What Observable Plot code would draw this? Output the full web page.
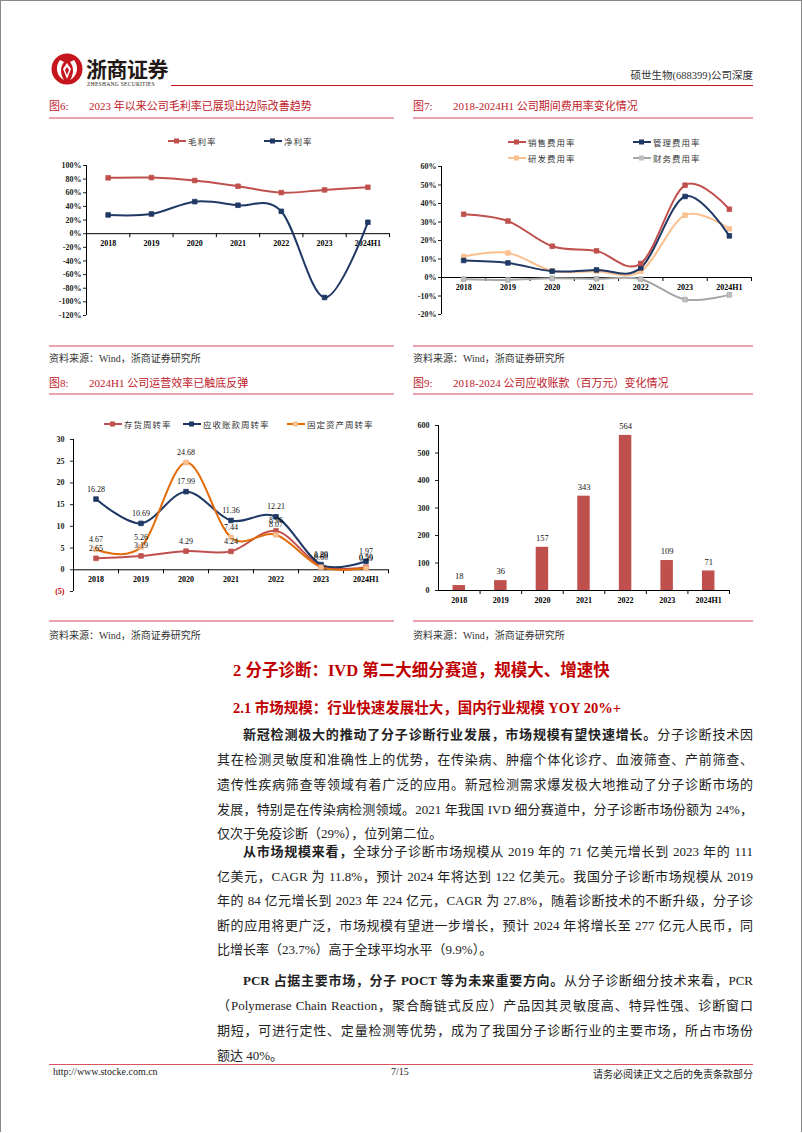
<!DOCTYPE html>
<html><head><meta charset="utf-8">
<script src="https://cdn.jsdelivr.net/npm/d3@7"></script>
<script src="https://cdn.jsdelivr.net/npm/@observablehq/plot@0.6"></script>
<style>
html,body{margin:0;padding:0;background:#fff;}
#page{position:relative;width:800px;height:1131px;border:1px solid #888;border-bottom:none;overflow:hidden;font-family:"Liberation Serif","Noto Sans CJK SC",serif;color:#222;}
.abs{position:absolute;white-space:nowrap;}
.cap{font-size:11px;color:#C0202A;}
.cap b{font-weight:normal;display:inline-block;width:40px;}
.hr{position:absolute;height:2px;background:#E8A3AC;}
.src{font-size:10px;color:#333;}
.body{position:absolute;left:216px;width:536px;font-size:13px;white-space:nowrap;text-align:justify;text-align-last:justify;line-height:16px;}
.body.last{text-align-last:left;}
.body b{font-weight:bold;}
.legend{position:absolute;font-family:"Noto Sans CJK SC",sans-serif;font-size:8.5px;color:#333;letter-spacing:1px;display:flex;align-items:center;white-space:nowrap;}
.legend svg{margin-right:2px;}
svg text{font-family:"Liberation Serif",serif;}
</style></head>
<body><div id="page"></div>
<script>
// ---------- data ----------
const years = ["2018","2019","2020","2021","2022","2023","2024H1"];
const grossMargin = [81.9, 82.3, 78.0, 69.6, 60.3, 64.2, 68.1];
const netMargin   = [27.5, 28.9, 47.0, 41.7, 32.8, -93.6, 16.7];
const sellingExp = [34.2, 30.5, 16.9, 14.4, 7.6, 49.9, 36.9];
const adminExp   = [9.2, 7.9, 3.4, 4.1, 5.2, 43.8, 22.5];
const rdExp      = [11.4, 13.3, 3.6, 3.4, 3.4, 33.7, 26.3];
const finExp     = [-0.9, -1.3, -0.4, -0.7, -0.9, -11.9, -9.4];
const invTurnover = [2.65, 3.19, 4.29, 4.24, 8.96, 0.89, 0.59];
const arTurnover  = [16.28, 10.69, 17.99, 11.36, 12.21, 1.20, 1.97];
const faTurnover  = [4.67, 5.26, 24.68, 7.44, 8.07, 0.60, 0.39];
const receivables = [18, 36, 157, 343, 564, 109, 71];
const ticks6 = [100, 80, 60, 40, 20, 0, -20, -40, -60, -80, -100, -120];
const ticks7 = [60, 50, 40, 30, 20, 10, 0, -10, -20];
const ticks8 = [30, 25, 20, 15, 10, 5, 0];
const ticks8neg = [-5];
const ticks9 = [0, 100, 200, 300, 400, 500, 600];

const RED = "#C0504D", NAVY = "#1F3864", PEACH = "#FAC090", GRAY = "#A6A6A6", ORANGE = "#E36C09";
const page = document.getElementById("page");

function add(html){ page.insertAdjacentHTML("beforeend", html); }
function place(node, left, top){ node.style.position="absolute"; node.style.left=left+"px"; node.style.top=top+"px"; page.appendChild(node); }

const bounds = years.map((d,i)=>i+0.5);

function baseMarks(){
  return [
    Plot.ruleX([-0.5], {stroke:"#000", strokeWidth:1}),
    Plot.ruleY([0], {stroke:"#000", strokeWidth:1}),
    Plot.ruleX(bounds, {x:d=>d, y1:0, y2:0, insetBottom:-4, stroke:"#000", strokeWidth:1}),
    Plot.text(years, {x:(d,i)=>i, y:0, dy:10, text:d=>d, fontWeight:"bold", fontSize:8, fill:"#000"})
  ];
}
function seriesMarks(vals, color, mfill, mstroke, w){
  const pts = vals.map((v,i)=>({i, v}));
  return [
    Plot.line(pts, {x:"i", y:"v", stroke:color, strokeWidth:w||2, curve:"cardinal"}),
    Plot.dot(pts, {x:"i", y:"v", symbol:"square", r:2.6, fill:mfill||color, stroke:mstroke||color, strokeWidth:0.8})
  ];
}
function legendItem(label, color, mfill, left, top){
  add(`<div class="legend" style="left:${left}px;top:${top-6}px"><svg width="18" height="8"><line x1="0" y1="4" x2="18" y2="4" stroke="${color}" stroke-width="2"/><rect x="6" y="1.5" width="5" height="5" fill="${mfill||color}"/></svg>${label}</div>`);
}

// ---------- header ----------
add(`<svg class="abs" style="left:49px;top:51px" width="34" height="34" viewBox="0 0 34 34">
<circle cx="17" cy="17" r="15.5" fill="#C4161C"/>
<path d="M10 8 C 5 14, 6 24, 14 28 C 10 22, 10 15, 14 10 Z" fill="#fff"/>
<path d="M24 8 C 29 14, 28 24, 20 28 C 24 22, 24 15, 20 10 Z" fill="#fff"/>
<path d="M17 11 L 21 17 L 17 27 L 13 17 Z" fill="#fff"/>
<path d="M17 15 L 19 18 L 17 23 L 15 18 Z" fill="#C4161C"/>
</svg>`);
add(`<div class="abs" style="left:85px;top:56px;line-height:22px;font-family:'Noto Sans CJK SC';font-weight:bold;font-size:21px;color:#231815;letter-spacing:-0.5px">浙商证券</div>`);
add(`<div class="abs" style="left:86px;top:80px;line-height:6px;font-size:5.5px;color:#231815;letter-spacing:0.3px">ZHESHANG SECURITIES</div>`);
add(`<div class="abs" style="left:170px;top:84px;width:582px;height:1px;background:#C4161C"></div>`);
add(`<div class="abs" style="left:560px;width:192px;text-align:right;top:66px;font-size:10.5px;color:#333">硕世生物(688399)公司深度</div>`);

// ---------- captions ----------
add(`<div class="abs cap" style="left:48px;top:96px"><b>图6:</b>2023 年以来公司毛利率已展现出边际改善趋势</div>`);
add(`<div class="abs cap" style="left:412px;top:96px"><b>图7:</b>2018-2024H1 公司期间费用率变化情况</div>`);
add(`<div class="hr" style="left:48px;top:116px;width:345px"></div>`);
add(`<div class="hr" style="left:412px;top:116px;width:340px"></div>`);
add(`<div class="hr" style="left:48px;top:344px;width:345px"></div>`);
add(`<div class="hr" style="left:412px;top:344px;width:340px"></div>`);
add(`<div class="abs src" style="left:48px;top:349px">资料来源：Wind，浙商证券研究所</div>`);
add(`<div class="abs src" style="left:412px;top:349px">资料来源：Wind，浙商证券研究所</div>`);
add(`<div class="abs cap" style="left:48px;top:373px"><b>图8:</b>2024H1 公司运营效率已触底反弹</div>`);
add(`<div class="abs cap" style="left:412px;top:373px"><b>图9:</b>2018-2024 公司应收账款（百万元）变化情况</div>`);
add(`<div class="hr" style="left:48px;top:392px;width:345px"></div>`);
add(`<div class="hr" style="left:412px;top:392px;width:340px"></div>`);
add(`<div class="hr" style="left:48px;top:619px;width:345px"></div>`);
add(`<div class="hr" style="left:412px;top:619px;width:340px"></div>`);
add(`<div class="abs src" style="left:48px;top:626px">资料来源：Wind，浙商证券研究所</div>`);
add(`<div class="abs src" style="left:412px;top:626px">资料来源：Wind，浙商证券研究所</div>`);

// ---------- chart 6 ----------
const c6 = Plot.plot({
  width:360, height:180, marginLeft:45, marginRight:12, marginTop:14, marginBottom:16,
  x:{domain:[-0.5,6.5], axis:null}, y:{domain:[-120,100]},
  marks:[
    Plot.axisY({ticks:ticks6, tickSize:3, tickFormat:d=>d+"%", fontWeight:"bold", fontSize:8, label:null, tickPadding:2}),
    ...baseMarks(),
    ...seriesMarks(grossMargin, RED),
    ...seriesMarks(netMargin, NAVY)
  ]
});
place(c6, 40, 150);
legendItem("毛利率", RED, null, 167, 140);
legendItem("净利率", NAVY, null, 263, 140);

// ---------- chart 7 ----------
const c7 = Plot.plot({
  width:380, height:170, marginLeft:35, marginRight:35, marginTop:10, marginBottom:12,
  x:{domain:[-0.5,6.5], axis:null}, y:{domain:[-20,60]},
  marks:[
    Plot.axisY({ticks:ticks7, tickSize:3, tickFormat:d=>d+"%", fontWeight:"bold", fontSize:8, label:null, tickPadding:2}),
    ...baseMarks(),
    ...seriesMarks(finExp, GRAY, "#BFBFBF"),
    ...seriesMarks(rdExp, PEACH),
    ...seriesMarks(adminExp, NAVY),
    ...seriesMarks(sellingExp, RED)
  ]
});
place(c7, 405, 155);
legendItem("销售费用率", RED, null, 507, 141);
legendItem("管理费用率", NAVY, null, 632, 141);
legendItem("研发费用率", PEACH, null, 507, 157);
legendItem("财务费用率", GRAY, "#BFBFBF", 632, 157);

// ---------- chart 8 ----------
function labels(vals){
  return Plot.text(vals.map((v,i)=>({i,v})), {x:"i", y:"v", text:d=>d.v.toFixed(2), dy:-10, fontSize:8, fill:"#111"});
}
const c8 = Plot.plot({
  width:360, height:175, marginLeft:32, marginRight:13, marginTop:13, marginBottom:10,
  x:{domain:[-0.5,6.5], axis:null}, y:{domain:[-5,30]},
  marks:[
    Plot.axisY({ticks:ticks8, tickSize:3, fontWeight:"bold", fontSize:8, label:null, tickPadding:6}),
    Plot.axisY({ticks:ticks8neg, tickSize:3, tickFormat:d=>"("+Math.abs(d)+")", fontWeight:"bold", fontSize:8, fill:"#C00000", label:null, tickPadding:6}),
    ...baseMarks(),
    ...seriesMarks(invTurnover, RED),
    ...seriesMarks(arTurnover, NAVY),
    ...seriesMarks(faTurnover, ORANGE, PEACH, "#F4B183"),
    labels(invTurnover), labels(arTurnover), labels(faTurnover)
  ]
});
place(c8, 40, 425);
legendItem("存货周转率", RED, null, 103, 423);
legendItem("应收账款周转率", NAVY, null, 182, 423);
legendItem("固定资产周转率", ORANGE, PEACH, 286, 423);

// ---------- chart 9 ----------
const bars = receivables.map((v,i)=>({i,v}));
const c9 = Plot.plot({
  width:380, height:190, marginLeft:32, marginRight:57, marginTop:9, marginBottom:16,
  x:{domain:[-0.5,6.5], axis:null}, y:{domain:[0,600]},
  marks:[
    Plot.axisY({ticks:ticks9, tickSize:3, fontWeight:"bold", fontSize:8, label:null, tickPadding:6}),
    Plot.rectY(bars, {x1:d=>d.i-0.15, x2:d=>d.i+0.15, y1:0, y2:"v", fill:RED}),
    ...baseMarks(),
    Plot.text(bars, {x:"i", y:"v", text:d=>String(d.v), dy:-9, fontSize:8.5, fill:"#111"})
  ]
});
place(c9, 405, 415);

// ---------- text ----------
add(`<div class="abs" style="left:232px;top:656px;font-family:'Liberation Serif','Noto Sans CJK SC';font-weight:bold;font-size:16.5px;color:#C00000">2 分子诊断：IVD 第二大细分赛道，规模大、增速快</div>`);
add(`<div class="abs" style="left:232px;top:695px;font-family:'Liberation Serif','Noto Sans CJK SC';font-weight:bold;font-size:14.5px;color:#C00000">2.1 市场规模：行业快速发展壮大，国内行业规模 YOY 20%+</div>`);

const lines = [
  [726, '<span style="padding-left:26px"></span><b>新冠检测极大的推动了分子诊断行业发展，市场规模有望快速增长。</b>分子诊断技术因', false],
  [751, '其在检测灵敏度和准确性上的优势，在传染病、肿瘤个体化诊疗、血液筛查、产前筛查、', false],
  [776, '遗传性疾病筛查等领域有着广泛的应用。新冠检测需求爆发极大地推动了分子诊断市场的', false],
  [801, '发展，特别是在传染病检测领域。2021 年我国 IVD 细分赛道中，分子诊断市场份额为 24%，', false],
  [825, '仅次于免疫诊断（29%），位列第二位。', true],
  [843, '<span style="padding-left:26px"></span><b>从市场规模来看，</b>全球分子诊断市场规模从 2019 年的 71 亿美元增长到 2023 年的 111', false],
  [868, '亿美元，CAGR 为 11.8%，预计 2024 年将达到 122 亿美元。我国分子诊断市场规模从 2019', false],
  [892, '年的 84 亿元增长到 2023 年 224 亿元，CAGR 为 27.8%，随着诊断技术的不断升级，分子诊', false],
  [917, '断的应用将更广泛，市场规模有望进一步增长，预计 2024 年将增长至 277 亿元人民币，同', false],
  [941, '比增长率（23.7%）高于全球平均水平（9.9%）。', true],
  [972, '<span style="padding-left:26px"></span><b>PCR 占据主要市场，分子 POCT 等为未来重要方向。</b>从分子诊断细分技术来看，PCR', false],
  [997, '（Polymerase Chain Reaction，聚合酶链式反应）产品因其灵敏度高、特异性强、诊断窗口', false],
  [1022, '期短，可进行定性、定量检测等优势，成为了我国分子诊断行业的主要市场，所占市场份', false],
  [1047, '额达 40%。', true]
];
lines.forEach(([top, html, last]) => add(`<div class="body${last?' last':''}" style="top:${top}px">${html}</div>`));

// ---------- footer ----------
add(`<div class="abs" style="left:48px;top:1063px;width:704px;height:1px;background:#D9545E"></div>`);
add(`<div class="abs" style="left:52px;top:1065px;font-size:10px;color:#222">http://www.stocke.com.cn</div>`);
add(`<div class="abs" style="left:390px;top:1065px;font-size:10px;color:#222">7/15</div>`);
add(`<div class="abs" style="left:560px;width:192px;text-align:right;top:1065px;font-size:10px;color:#222">请务必阅读正文之后的免责条款部分</div>`);
</script>
</body></html>
